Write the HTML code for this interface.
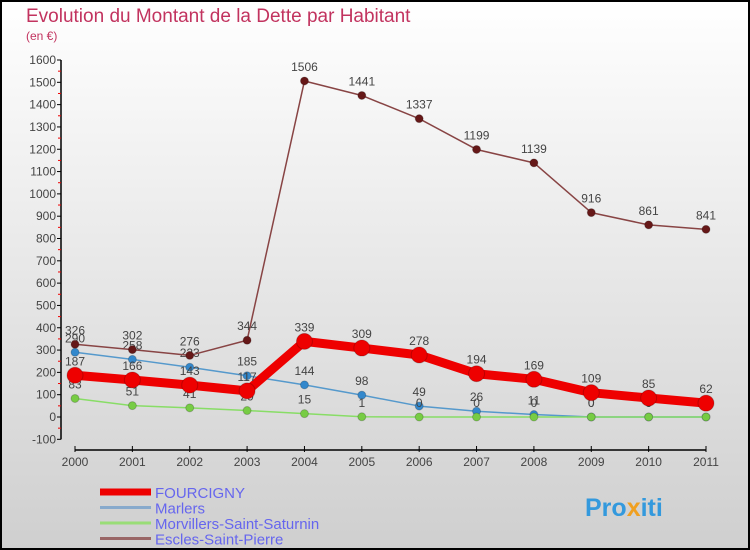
<!DOCTYPE html>
<html><head><meta charset="utf-8"><style>
body{margin:0;}
svg{display:block;font-family:"Liberation Sans",sans-serif;}
</style></head><body>
<svg id="c" width="750" height="550" viewBox="0 0 750 550">
<defs><linearGradient id="bg" x1="0" y1="0" x2="0" y2="1"><stop offset="0" stop-color="#ffffff"/><stop offset="1" stop-color="#cfcfcf"/></linearGradient></defs>
<rect x="1" y="1" width="748" height="548" fill="url(#bg)" stroke="#000" stroke-width="2"/>
<text x="26" y="22" font-size="19" fill="#c2335f">Evolution du Montant de la Dette par Habitant</text>
<text x="26" y="40" font-size="12" fill="#c2335f">(en €)</text>
<g id="axes"></g>
<g id="series"></g>
<g id="legend"></g>
<text x="585" y="516" font-size="25" font-weight="bold" fill="#3399dd">Pro<tspan fill="#f0a020">x</tspan>iti</text>
</svg>
<script>
const years=[2000,2001,2002,2003,2004,2005,2006,2007,2008,2009,2010,2011];
const yTicks=[-100,0,100,200,300,400,500,600,700,800,900,1000,1100,1200,1300,1400,1500,1600];
const fourcigny=[187,166,143,117,339,309,278,194,169,109,85,62];
const marlers=[290,258,223,185,144,98,49,26,11,0,0,0];
const morvillers=[83,51,41,29,15,1,0,0,0,0,0,0];
const escles=[326,302,276,344,1506,1441,1337,1199,1139,916,861,841];
const names=["FOURCIGNY","Marlers","Morvillers-Saint-Saturnin","Escles-Saint-Pierre"];
const NS="http://www.w3.org/2000/svg";
function X(i){return 75+i*(706-75)/(years.length-1);}
function Y(v){return 417-v*(357/1600);}
function mk(tag,attrs,parent,text){const e=document.createElementNS(NS,tag);for(const k in attrs)e.setAttribute(k,attrs[k]);if(text!==undefined)e.textContent=text;parent.appendChild(e);return e;}
const ax=document.getElementById('axes');
let e=mk('line',{x1:61,y1:Y(1600),x2:61,y2:Y(-100),stroke:'#000','stroke-width':1.5},ax);


yTicks.forEach(t=>{
  let l=mk('line',{x1:57,y1:Y(t),x2:61,y2:Y(t),stroke:'#000'},ax);
  
  
  let m=mk('line',{x1:58,y1:Y(t+50),x2:61,y2:Y(t+50),stroke:'#e00'},ax);
  if(t===1600)m.remove();
  
  
  let tx=mk('text',{x:56,y:Y(t)+4,'font-size':12,'text-anchor':'end',fill:'#444'},ax,t);
  
  
});
e=mk('line',{x1:75,y1:450,x2:706,y2:450,stroke:'#000','stroke-width':1.5},ax);


years.forEach((yr,i)=>{
  let l=mk('line',{x1:X(i),y1:446,x2:X(i),y2:452,stroke:'#000'},ax);
  
  
  let tx=mk('text',{x:X(i),y:466,'font-size':12,'text-anchor':'middle',fill:'#444'},ax,yr);
  
  
});
const sg=document.getElementById('series');
const defs=[
 {d:marlers,c:'#5599cc',w:1.5,r:4,fc:'#3388cc',n:'marlers'},
 {d:morvillers,c:'#88dd66',w:1.5,r:4,fc:'#77cc44',n:'morvillers'},
 {d:escles,c:'#884444',w:1.5,r:4,fc:'#661818',n:'escles'},
 {d:fourcigny,c:'#ee0000',w:9,r:8,fc:'#ee0000',n:'fourcigny'}];
defs.forEach(s=>{
  const g=mk('g',{},sg);
  
  
  const p=mk('polyline',{points:s.d.map((v,i)=>X(i)+','+Y(v)).join(' '),fill:'none',stroke:s.c,'stroke-width':s.w,'stroke-linejoin':'round'},g);
  
  
  s.d.forEach((v,i)=>{
    const c=mk('circle',{cx:X(i),cy:Y(v),r:s.r,fill:s.fc,stroke:'rgba(0,0,0,0.2)'},g);
    
    
    const t=mk('text',{x:X(i),y:Y(v)-10,'font-size':12,'text-anchor':'middle',fill:'#444'},g,v);
    
    
  });
});
const lg=document.getElementById('legend');
const lc=['#ee0000','#88aacc','#99dd77','#996666'],lw=[7,3,3,3];
names.forEach((n,i)=>{
  const y=492+i*15.5;
  const l=mk('line',{x1:100,y1:y,x2:151,y2:y,stroke:lc[i],'stroke-width':lw[i]},lg);
  
  
  const t=mk('text',{x:155,y:y+6,'font-size':15,fill:'#6666ee'},lg,n);
  
  
});
</script>
</body></html>
